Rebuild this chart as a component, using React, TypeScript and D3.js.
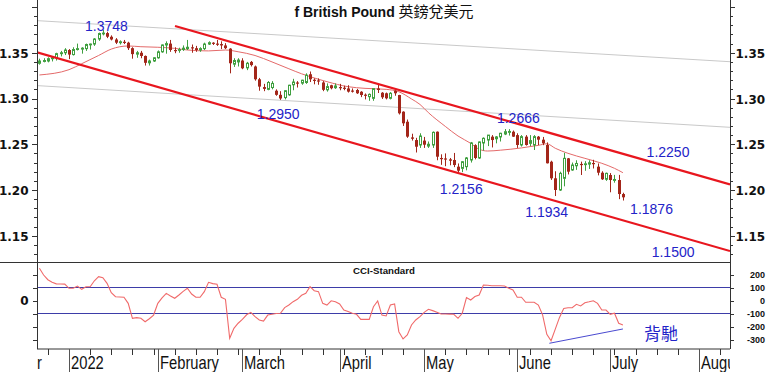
import React from "react";
import * as d3 from "d3";

// ---------------- data ----------------
// Daily candles [open, high, low, close], one row per trading day, first row = 2021-12-23
const firstCandleDate = "2021-12-23";
const closedDays = ["2022-04-15"];

const decCandles: number[][] = [
  [1.3385, 1.3435, 1.337, 1.341], [1.3405, 1.344, 1.3395, 1.3415], [1.341, 1.345, 1.3395, 1.3435],
  [1.3435, 1.3455, 1.3405, 1.3445], [1.3445, 1.35, 1.3415, 1.349], [1.349, 1.352, 1.346, 1.35],
  [1.35, 1.355, 1.3475, 1.353],
];
const janCandles: number[][] = [
  [1.353, 1.354, 1.343, 1.348], [1.348, 1.356, 1.347, 1.3535], [1.3535, 1.36, 1.3525, 1.3545],
  [1.354, 1.356, 1.349, 1.355], [1.3545, 1.36, 1.352, 1.359], [1.359, 1.36, 1.3535, 1.3595],
  [1.3595, 1.366, 1.3575, 1.365], [1.365, 1.372, 1.363, 1.371], [1.371, 1.3748, 1.369, 1.3715],
  [1.3715, 1.373, 1.366, 1.3675], [1.3675, 1.369, 1.3635, 1.3645], [1.3645, 1.366, 1.3595, 1.361],
  [1.361, 1.3635, 1.359, 1.362], [1.362, 1.364, 1.3595, 1.361], [1.361, 1.362, 1.353, 1.355],
  [1.355, 1.356, 1.3435, 1.3485], [1.3485, 1.352, 1.3445, 1.35], [1.35, 1.352, 1.344, 1.3465],
  [1.3465, 1.347, 1.336, 1.339], [1.339, 1.3425, 1.336, 1.341], [1.341, 1.345, 1.34, 1.3445],
];
const febCandles: number[][] = [
  [1.3445, 1.3525, 1.3435, 1.351], [1.351, 1.359, 1.35, 1.3585], [1.3585, 1.3625, 1.349, 1.36],
  [1.36, 1.364, 1.351, 1.353], [1.353, 1.356, 1.3495, 1.3528], [1.3528, 1.3555, 1.35, 1.3535],
  [1.3535, 1.358, 1.352, 1.355], [1.3545, 1.364, 1.353, 1.356], [1.356, 1.359, 1.35, 1.355],
  [1.355, 1.3575, 1.351, 1.353], [1.353, 1.356, 1.351, 1.3545], [1.3545, 1.361, 1.353, 1.3595],
  [1.3595, 1.3625, 1.3585, 1.361], [1.361, 1.3615, 1.3585, 1.36], [1.36, 1.364, 1.3575, 1.3595],
  [1.3595, 1.3625, 1.354, 1.358], [1.358, 1.3605, 1.354, 1.355], [1.3545, 1.355, 1.3275, 1.3385],
  [1.3375, 1.344, 1.3345, 1.3415], [1.34, 1.344, 1.335, 1.342],
];
const marCandles: number[][] = [
  [1.3415, 1.344, 1.332, 1.333], [1.3335, 1.34, 1.331, 1.3385], [1.34, 1.341, 1.335, 1.3365],
  [1.335, 1.336, 1.3195, 1.321], [1.321, 1.3225, 1.3085, 1.313], [1.3125, 1.316, 1.308, 1.3105],
  [1.31, 1.319, 1.309, 1.3175], [1.312, 1.319, 1.31, 1.3165], [1.3085, 1.31, 1.303, 1.304],
  [1.304, 1.308, 1.2985, 1.3], [1.301, 1.309, 1.299, 1.3085], [1.304, 1.315, 1.303, 1.3145],
  [1.315, 1.3215, 1.309, 1.318], [1.3175, 1.319, 1.312, 1.3172], [1.3168, 1.3205, 1.315, 1.32],
  [1.3175, 1.3275, 1.316, 1.3255], [1.3265, 1.3295, 1.318, 1.321], [1.3205, 1.322, 1.3155, 1.32],
  [1.3198, 1.322, 1.315, 1.3193], [1.3175, 1.319, 1.308, 1.3095], [1.3095, 1.3165, 1.3075, 1.313],
  [1.3145, 1.315, 1.31, 1.3112], [1.3118, 1.3165, 1.3105, 1.3137],
];
const aprCandles: number[][] = [
  [1.3125, 1.316, 1.309, 1.312], [1.3118, 1.314, 1.309, 1.3114], [1.311, 1.3145, 1.3065, 1.3075],
  [1.3087, 1.311, 1.3065, 1.3083], [1.3093, 1.3105, 1.305, 1.3057], [1.3074, 1.308, 1.3015, 1.3038],
  [1.3042, 1.3055, 1.299, 1.3038], [1.302, 1.3055, 1.2975, 1.3045], [1.3002, 1.311, 1.2975, 1.3108],
  [1.311, 1.315, 1.306, 1.3093], [1.3063, 1.307, 1.2995, 1.3013], [1.3057, 1.3065, 1.299, 1.3002],
  [1.3002, 1.307, 1.299, 1.3057], [1.3085, 1.309, 1.303, 1.3057], [1.3038, 1.304, 1.2825, 1.2838],
  [1.2856, 1.286, 1.27, 1.2729], [1.2746, 1.277, 1.257, 1.2583], [1.2575, 1.2615, 1.254, 1.256],
  [1.2546, 1.257, 1.241, 1.2473], [1.2492, 1.262, 1.246, 1.259],
];
const mayCandles: number[][] = [
  [1.254, 1.258, 1.246, 1.2495], [1.248, 1.253, 1.246, 1.25], [1.2492, 1.264, 1.246, 1.263],
  [1.2637, 1.264, 1.2325, 1.2364], [1.235, 1.239, 1.2275, 1.234], [1.2345, 1.24, 1.226, 1.2335],
  [1.2335, 1.235, 1.227, 1.232], [1.2328, 1.2405, 1.225, 1.2273], [1.2255, 1.229, 1.2185, 1.2211],
  [1.2237, 1.2315, 1.2195, 1.2309], [1.2255, 1.236, 1.2215, 1.235], [1.2328, 1.2525, 1.23, 1.2514],
  [1.249, 1.25, 1.2335, 1.235], [1.235, 1.253, 1.234, 1.2525], [1.2514, 1.2575, 1.243, 1.2565],
  [1.2546, 1.26, 1.248, 1.26], [1.2583, 1.26, 1.2465, 1.2546], [1.256, 1.259, 1.251, 1.258],
  [1.258, 1.2625, 1.253, 1.262], [1.2612, 1.2666, 1.26, 1.2637], [1.263, 1.2665, 1.2595, 1.264],
  [1.2637, 1.265, 1.258, 1.2583],
];
const junCandles: number[][] = [
  [1.26, 1.262, 1.246, 1.2492], [1.2492, 1.26, 1.2475, 1.2583], [1.2583, 1.26, 1.2485, 1.2492],
  [1.251, 1.26, 1.248, 1.254], [1.2492, 1.26, 1.2437, 1.2583], [1.2583, 1.259, 1.249, 1.255],
  [1.255, 1.258, 1.249, 1.251], [1.2492, 1.252, 1.229, 1.2292], [1.2309, 1.232, 1.211, 1.2128],
  [1.2128, 1.2205, 1.1934, 1.2], [1.2, 1.22, 1.199, 1.2182], [1.2128, 1.2406, 1.204, 1.2346],
  [1.2346, 1.235, 1.217, 1.22], [1.2219, 1.23, 1.221, 1.2273], [1.2265, 1.2325, 1.222, 1.229],
  [1.2285, 1.231, 1.2164, 1.228], [1.228, 1.2315, 1.221, 1.2286], [1.2283, 1.2325, 1.223, 1.2298],
  [1.2295, 1.233, 1.2235, 1.229], [1.2255, 1.229, 1.216, 1.2189], [1.2189, 1.2205, 1.211, 1.2117],
  [1.2117, 1.219, 1.21, 1.2182],
];
const julCandles: number[][] = [
  [1.2164, 1.2185, 1.1975, 1.2109], [1.2105, 1.2165, 1.208, 1.2115], [1.2109, 1.2165, 1.19, 1.1956],
  [1.1956, 1.197, 1.1885, 1.192],
];

// CCI-Standard, same days as the candles
const cciDec = [248, 196, 160, 140, 128, 127, 126];
const cciJan = [94, 94, 111, 86, 106, 106, 152, 183, 175, 132, 60, 29, 27, 25, -22, -137, -132, -137, -163, -140, -112];
const cciFeb = [-22, 20, 55, 35, 17, 42, 70, 94, 50, 25, 25, 68, 140, 130, 125, 25, 9, -291, -214, -175];
const cciMar = [-145, -110, -91, -124, -150, -158, -112, -106, -100, -98, -55, -35, -9, 9, 40, 55, 106, 75, 68, -22, -35, -2, -10];
const cciApr = [-27, -73, -85, -98, -106, -145, -145, -145, -48, -4, -112, -119, -35, -27, -240, -296, -265, -188, -150, -124];
const cciMay = [-91, -68, -78, -90, -104, -104, -105, -106, -137, -98, 22, 4, 30, 42, 119, 117, 114, 114, 114, 111, 95, 81];
const cciJun = [25, 25, -14, -14, -14, -35, -110, -260, -310, -220, -130, -62, -56, -55, -29, -42, -17, -10, -2, -22, -73, -73];
const cciJul = [-106, -98, -175, -188];

// moving average read at sample days (trading-day number, 0 = 2022-01-03)
const maDays = [-7, 0, 3, 7, 10, 14, 17, 21, 25, 28, 33, 37, 40, 44, 48, 52, 55, 57, 61, 66, 70, 75, 78, 81, 83, 85, 89, 92, 95, 97, 99, 102, 107, 111, 113, 115, 118, 122, 126, 129, 131];
const maValues = [1.3257, 1.3315, 1.338, 1.347, 1.354, 1.3574, 1.3566, 1.356, 1.3548, 1.353, 1.352, 1.353, 1.3511, 1.347, 1.34, 1.3325, 1.327, 1.3239, 1.3184, 1.3129, 1.3111, 1.31, 1.3074, 1.2995, 1.2935, 1.2845, 1.2695, 1.259, 1.251, 1.2445, 1.2426, 1.2435, 1.246, 1.2488, 1.2505, 1.2456, 1.2401, 1.2346, 1.2292, 1.2237, 1.2189];

// trend lines [trading-day number, price]
const channelUpper = [[25.07, 1.3792], [156.32, 1.2062]];
const channelLower = [[-7.57, 1.3505], [156.32, 1.1333]];
const grayUpper = [[-7.57, 1.3851], [156.32, 1.3402]];
const grayLower = [[-7.57, 1.3141], [156.32, 1.2685]];
const divergenceLine = [[113.6, -329], [131, -219]];

// price annotations
const annoText = ["1.3748", "1.2950", "1.2666", "1.2156", "1.1934", "1.1876", "1.2250", "1.1500"];
const annoDay = [3.8, 44.4, 101.2, 87.7, 107.9, 132.7, 136.6, 137.8];
const annoPrice = [1.3743, 1.2776, 1.2736, 1.1956, 1.1702, 1.1738, 1.2364, 1.1271];

const monthNames = ["December", "2022", "February", "March", "April", "May", "June", "July", "August"];
const monthStarts = ["2021-12-01", "2022-01-03", "2022-02-01", "2022-03-01", "2022-04-01", "2022-05-02", "2022-06-01", "2022-07-01", "2022-08-01"];
const priceLabels = [1.15, 1.2, 1.25, 1.3, 1.35];
const cciLabels = [200, 100, 0, -100, -200, -300];
const cciLevels = [100, -100];
const visibleDays = [-7.57, 156.32];

// ---------------- calendar ----------------
const fmt = d3.timeFormat("%Y-%m-%d");
const tradingDays = d3.timeDay
  .range(new Date(2021, 11, 1), new Date(2022, 7, 13))
  .filter((d) => d.getDay() % 6 !== 0 && !closedDays.includes(fmt(d)));
const dayZero = tradingDays.findIndex((d) => fmt(d) === "2022-01-03");
const dayNo = (s: string) => tradingDays.findIndex((d) => fmt(d) === s) - dayZero;
const mondays = tradingDays.filter((d) => d.getDay() === 1).map((d) => dayNo(fmt(d)));

const candles = [...decCandles, ...janCandles, ...febCandles, ...marCandles, ...aprCandles, ...mayCandles, ...junCandles, ...julCandles];
const cciValues = [...cciDec, ...cciJan, ...cciFeb, ...cciMar, ...cciApr, ...cciMay, ...cciJun, ...cciJul];
const startDay = dayNo(firstCandleDate);

// ---------------- layout ----------------
const W = 768, H = 372;
const L = 37, R = 730;
const PT = 0, PB = 262.5; // price panel
const CT = 262.5, CB = 349; // cci panel
const SANS = "'Liberation Sans', Arial, Helvetica, sans-serif";
const AXIS = "'DejaVu Sans', Verdana, sans-serif";
const CJK = "'Noto Sans CJK TC', 'Noto Sans CJK SC', sans-serif";
const UP = "#3f9f3f";
const DOWN = "#a3261a";
const BLUE = "#2323c8";
const AX = "#333";

export default function App() {
  const x = d3.scaleLinear().domain(visibleDays).range([L, R]);
  const y = d3.scaleLinear().domain([1.15, 1.35]).range([235.75, 52.75]);
  const yc = d3.scaleLinear().domain([-300, 200]).range([339.5, 274.5]);

  const priceLine = d3.line<number[]>().x((d) => x(d[0])).y((d) => y(d[1]));
  const cciLineGen = d3.line<number[]>().x((d) => x(d[0])).y((d) => yc(d[1]));
  const maPath = d3
    .line<number>()
    .x((_, i) => x(maDays[i]))
    .y((v) => y(v))
    .curve(d3.curveMonotoneX)(maValues);
  const cciPath = d3
    .line<number>()
    .x((_, i) => x(startDay + i))
    .y((v) => yc(v))(cciValues);

  const minorTicks = d3.range(113, 141).map((v) => v / 100);
  const cciTicks = d3.range(-300, 201, 100);
  const crisp = (v: number) => Math.round(v) + 0.5;

  return (
    <>
      <style>{`body{margin:0;background:#fff}`}</style>
      <svg width={W} height={H} viewBox={`0 0 ${W} ${H}`} style={{ display: "block" }}>
        <defs>
          <clipPath id="pclip"><rect x={L} y={PT} width={R - L} height={PB - PT} /></clipPath>
          <clipPath id="cclip"><rect x={L} y={CT} width={R - L} height={CB - CT} /></clipPath>
          <clipPath id="xclip"><rect x={L} y={CB} width={R - L} height={H - CB} /></clipPath>
        </defs>
        <rect width={W} height={H} fill="#fff" />

        {/* title */}
        <text x={384} y={17} textAnchor="middle" fill="#111">
          <tspan fontFamily={SANS} fontWeight="bold" fontSize={14}>f British Pound </tspan>
          <tspan fontFamily={CJK} fontSize={15}>英鎊兌美元</tspan>
        </text>

        {/* price panel */}
        <g clipPath="url(#pclip)">
          {[grayUpper, grayLower].map((ln, i) => (
            <path key={"g" + i} d={priceLine(ln) || ""} stroke="#c9c9c9" strokeWidth={1} fill="none" />
          ))}
          <path d={maPath || ""} stroke="#e46a6a" strokeWidth={1} fill="none" />
          {candles.map((c, i) => {
            const [o, h, l, cl] = c;
            const cx = crisp(x(startDay + i));
            const up = cl >= o;
            const top = y(Math.max(o, cl));
            const bot = y(Math.min(o, cl));
            const col = up ? UP : DOWN;
            return (
              <g key={i}>
                <line x1={cx} x2={cx} y1={y(h)} y2={y(l)} stroke={col} strokeWidth={1} />
                {up ? (
                  <rect x={cx - 1} y={top} width={2} height={Math.max(bot - top, 0.8)} fill="#fff" stroke={col} strokeWidth={1} />
                ) : (
                  <rect x={cx - 1.5} y={top} width={3} height={Math.max(bot - top, 1.2)} fill={col} />
                )}
              </g>
            );
          })}
          {[channelUpper, channelLower].map((ln, i) => (
            <path key={"c" + i} d={priceLine(ln) || ""} stroke="#e8161e" strokeWidth={2.2} fill="none" />
          ))}
        </g>
        {annoText.map((t, i) => (
          <text key={t} x={x(annoDay[i])} y={y(annoPrice[i])} fontFamily={SANS} fontSize={14} fill={BLUE}>{t}</text>
        ))}

        {/* cci panel */}
        <g clipPath="url(#cclip)">
          {cciLevels.map((v) => (
            <line key={v} x1={L} x2={R} y1={yc(v)} y2={yc(v)} stroke="#3d3da8" strokeWidth={1} />
          ))}
          <path d={cciPath || ""} stroke="#f06a6a" strokeWidth={1.1} fill="none" />
          <path d={cciLineGen(divergenceLine) || ""} stroke="#4a4ad0" strokeWidth={1} fill="none" />
        </g>
        <text x={384} y={274} textAnchor="middle" fontFamily={SANS} fontWeight="bold" fontSize={9.7} fill="#111">CCI-Standard</text>
        <text x={661} y={340} textAnchor="middle" fontFamily={CJK} fontSize={17} fill={BLUE}>背馳</text>

        {/* frame */}
        <line x1={0} x2={R} y1={PB} y2={PB} stroke={AX} strokeWidth={1} />
        <line x1={L} x2={R} y1={CB} y2={CB} stroke={AX} strokeWidth={1} />
        <line x1={L + 0.5} x2={L + 0.5} y1={0} y2={CB} stroke={AX} strokeWidth={1} />
        <line x1={R + 0.5} x2={R + 0.5} y1={0} y2={CB} stroke={AX} strokeWidth={1} />

        {/* price axes */}
        {minorTicks.map((v) => {
          const major = Math.abs(v * 20 - Math.round(v * 20)) < 1e-6;
          const yy = crisp(y(v));
          if (yy < 0 || yy > PB) return null;
          return (
            <g key={v}>
              <line x1={L - (major ? 5 : 3)} x2={L} y1={yy} y2={yy} stroke={AX} />
              <line x1={R} x2={R + (major ? 5 : 3)} y1={yy} y2={yy} stroke={AX} />
            </g>
          );
        })}
        {priceLabels.map((v) => (
          <g key={v} fontFamily={AXIS} fontWeight="bold" fontSize={12} fill="#111">
            <text x={28.5} y={y(v) + 4.8} textAnchor="end">{v.toFixed(2)}</text>
            <text x={735.5} y={y(v) + 5.2}>{v.toFixed(2)}</text>
          </g>
        ))}

        {/* cci axes */}
        {cciTicks.map((v) => (
          <g key={v}>
            <line x1={L - 4} x2={L} y1={crisp(yc(v))} y2={crisp(yc(v))} stroke={AX} />
            <line x1={R} x2={R + 4} y1={crisp(yc(v))} y2={crisp(yc(v))} stroke={AX} />
          </g>
        ))}
        {cciLabels.map((v) => (
          <text key={v} x={765} y={yc(v) + 3.2} textAnchor="end" fontFamily={SANS} fontWeight="bold" fontSize={9} fill="#111">{v}</text>
        ))}
        <text x={28.5} y={yc(0) + 4.5} textAnchor="end" fontFamily={AXIS} fontWeight="bold" fontSize={12} fill="#111">0</text>

        {/* time axis */}
        <g clipPath="url(#xclip)">
          {mondays.map((d) => (
            <line key={d} x1={crisp(x(d))} x2={crisp(x(d))} y1={CB} y2={CB + 6} stroke={AX} />
          ))}
          {monthStarts.map((s, i) => {
            const xx = crisp(x(dayNo(s)));
            return (
              <g key={s}>
                <line x1={xx} x2={xx} y1={CB} y2={H} stroke="#555" />
                <text
                  transform={`translate(${xx + 1.5},368.5) scale(0.82,1)`}
                  fontFamily={SANS}
                  fontSize={18}
                  fill="#111"
                >
                  {monthNames[i]}
                </text>
              </g>
            );
          })}
        </g>
      </svg>
    </>
  );
}
